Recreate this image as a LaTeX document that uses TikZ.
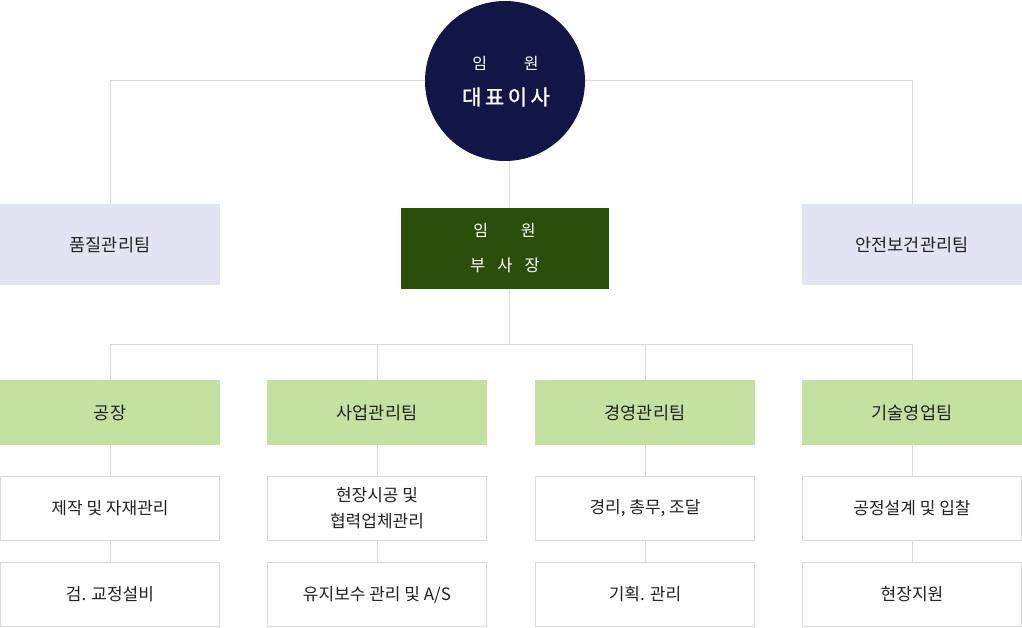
\documentclass[tikz,border=0pt]{standalone}
\usepackage{fontspec}
\usetikzlibrary{backgrounds}
\setmainfont{Noto Sans CJK KR}
\newfontfamily\krmed{Noto Sans CJK KR}[FakeBold=1.2]
\definecolor{navy}{HTML}{121646}
\definecolor{dgreen}{HTML}{2C4E0B}
\definecolor{lav}{HTML}{E1E5F1}
\definecolor{lgreen}{HTML}{C4E1A2}
\definecolor{lgray}{HTML}{D9D9D9}
\definecolor{txt}{HTML}{222222}
\tikzset{
  conn/.style={draw=lgray, line width=1pt},
  lavbox/.style={fill=lav, draw=none, minimum width=220pt, minimum height=81pt, inner sep=0, text=txt, font=\fontsize{17.5}{20}\selectfont},
  teambox/.style={fill=lgreen, draw=none, minimum width=220pt, minimum height=65pt, inner sep=0, text=txt, font=\fontsize{17.5}{20}\selectfont},
  taskbox/.style={fill=white, draw=lgray, line width=1pt, minimum width=219pt, minimum height=64pt, inner sep=0, text=txt, align=center, font=\fontsize{17}{26}\selectfont},
  wlabel/.style={text=white, inner sep=0},
}
\begin{document}
\begin{tikzpicture}[x=1pt,y=-1pt]
\useasboundingbox (0,0) rectangle (1022,628);
% coordinates for connector joints
\coordinate (tl) at (110,81);
\coordinate (tr) at (912,81);
\coordinate (ml) at (110,344);
\coordinate (m2) at (377,344);
\coordinate (m3) at (645,344);
\coordinate (mr) at (912,344);
\coordinate (mc) at (509,344);
\coordinate (cb) at (509,150);
% nodes
\node[circle, fill=navy, minimum size=160pt, inner sep=0] (ceo) at (505,81) {};
\node[wlabel, font=\fontsize{16}{18}\selectfont] (ceo1) at (505.5,63) {임\hspace{37pt}원};
\node[wlabel, font=\krmed\fontsize{21}{24}\selectfont] (ceo2) at (506,97) {대\hspace{3.5pt}표\hspace{3.5pt}이\hspace{3.5pt}사};
\node[lavbox] (qa) at (110,244.5) {품질관리팀};
\node[lavbox] (safe) at (912,244.5) {안전보건관리팀};
\node[fill=dgreen, minimum width=208pt, minimum height=81pt, inner sep=0] (vp) at (505,248.5) {};
\node[wlabel, font=\fontsize{16}{18}\selectfont] (vp1) at (504.5,230) {임\hspace{33pt}원};
\node[wlabel, font=\fontsize{16.5}{18}\selectfont] (vp2) at (505,265) {부\hspace{12pt}사\hspace{12pt}장};
\node[teambox] (t1) at (110,412.5) {공장};
\node[teambox] (t2) at (377,412.5) {사업관리팀};
\node[teambox] (t3) at (645,412.5) {경영관리팀};
\node[teambox] (t4) at (912,412.5) {기술영업팀};
\node[taskbox] (a1) at (110,508.5) {제작 및 자재관리};
\node[taskbox] (a2) at (377,508.5) {현장시공 및\\협력업체관리};
\node[taskbox] (a3) at (645,508.5) {경리, 총무, 조달};
\node[taskbox] (a4) at (912,508.5) {공정설계 및 입찰};
\node[taskbox] (b1) at (110,594.5) {검. 교정설비};
\node[taskbox] (b2) at (377,594.5) {유지보수 관리 및 A/S};
\node[taskbox] (b3) at (645,594.5) {기획. 관리};
\node[taskbox] (b4) at (912,594.5) {현장지원};
% connectors
\begin{pgfonlayer}{background}
\draw[conn] (qa.north) -- (tl) -- (tr) -- (safe.north);
\draw[conn] (cb) -- (mc);
\draw[conn] (t1.north) -- (ml) -- (mr) -- (t4.north);
\draw[conn] (m2) -- (t2.north);
\draw[conn] (m3) -- (t3.north);
\foreach \i in {1,2,3,4}{
  \draw[conn] (t\i.south) -- (a\i.north);
  \draw[conn] (a\i.south) -- (b\i.north);
}
\end{pgfonlayer}
\end{tikzpicture}
\end{document}
